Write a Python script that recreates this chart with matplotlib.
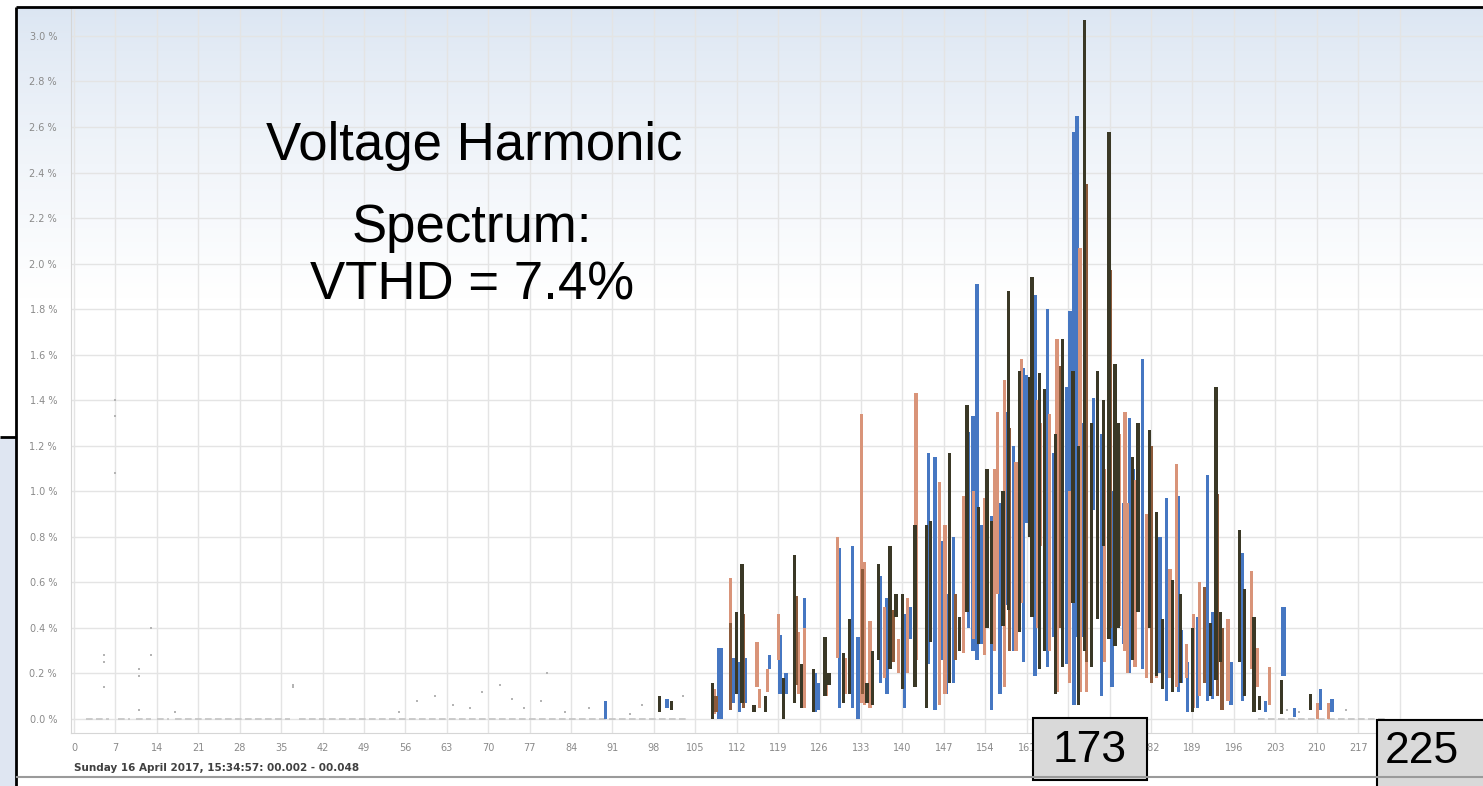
import matplotlib
matplotlib.use('Agg')
import matplotlib.pyplot as plt
import numpy as np
from matplotlib.patches import Rectangle

# harmonic spectrum: each bar is the min..max range of one harmonic, per phase
blue_h = [89.8, 100.2, 109.0, 109.4, 111.4, 112.5, 113.4, 117.5, 119.3, 120.3,
          123.5, 125.2, 125.8, 129.3, 131.5, 132.5, 136.3, 137.4, 140.4, 141.4,
          144.4, 145.5, 146.6, 147.5, 148.6, 151.2, 151.9, 152.6, 153.4, 155.1,
          156.5, 160.4, 161.0, 162.4, 164.5, 165.6, 167.7, 168.3, 169.0, 169.5,
          172.3, 173.6, 175.4, 177.3, 178.4, 180.6, 184.6, 186.6, 187.2, 188.2,
          191.6, 192.4, 195.5, 197.4, 201.3, 204.3, 204.6, 206.3, 210.6, 212.6,
          157.6, 158.8, 170.3, 179.0, 183.5, 189.8]
blue_lo = [0.00, 0.05, 0.00, 0.00, 0.07, 0.03, 0.07, 0.22, 0.11, 0.11,
           0.06, 0.03, 0.04, 0.05, 0.05, 0.00, 0.16, 0.11, 0.05, 0.35,
           0.24, 0.04, 0.26, 0.11, 0.16, 0.40, 0.30, 0.26, 0.33, 0.04,
           0.11, 0.25, 0.86, 0.19, 0.23, 0.36, 0.24, 0.55, 0.06, 0.36,
           0.92, 0.10, 0.14, 0.33, 0.20, 0.22, 0.08, 0.12, 0.16, 0.03,
           0.08, 0.09, 0.06, 0.08, 0.03, 0.19, 0.19, 0.01, 0.04, 0.03,
           0.50, 0.30, 0.36, 0.35, 0.20, 0.05]
blue_hi = [0.08, 0.09, 0.31, 0.31, 0.27, 0.25, 0.27, 0.28, 0.37, 0.20,
           0.53, 0.20, 0.16, 0.75, 0.76, 0.36, 0.63, 0.53, 0.46, 0.49,
           1.17, 1.15, 0.78, 0.55, 0.80, 1.26, 1.33, 1.91, 0.85, 0.89,
           0.95, 1.54, 1.51, 1.86, 1.80, 1.17, 1.46, 1.79, 2.58, 2.65,
           1.41, 1.25, 1.00, 0.95, 1.32, 1.58, 0.97, 0.98, 0.39, 0.25,
           1.07, 0.47, 0.25, 0.73, 0.08, 0.49, 0.49, 0.05, 0.13, 0.09,
           1.35, 1.20, 1.30, 1.10, 0.80, 0.45]

salmon_h = [108.3, 111.0, 115.4, 115.9, 117.2, 119.0, 122.4, 123.4, 127.2, 129.0,
            130.4, 133.1, 133.6, 134.5, 137.0, 139.3, 140.9, 142.3, 146.2, 147.2,
            150.3, 152.0, 153.9, 156.1, 157.3, 159.2, 160.1, 163.3, 164.9, 166.1,
            168.2, 170.0, 171.1, 174.2, 176.7, 178.0, 179.3, 181.2, 182.9, 185.2,
            186.3, 188.0, 189.2, 195.0, 199.0, 200.0, 202.0, 210.1, 212.0,
            155.5, 162.9, 177.6, 190.2]
salmon_lo = [0.02, 0.07, 0.14, 0.05, 0.12, 0.26, 0.11, 0.05, 0.10, 0.27,
             0.11, 0.07, 0.06, 0.05, 0.18, 0.20, 0.20, 0.26, 0.06, 0.11,
             0.29, 0.35, 0.28, 0.55, 0.14, 0.30, 0.51, 0.76, 0.30, 0.12,
             0.16, 0.12, 0.12, 0.25, 0.41, 0.20, 0.23, 0.18, 0.18, 0.18,
             0.14, 0.18, 0.05, 0.08, 0.22, 0.14, 0.06, 0.00, 0.00,
             0.30, 0.40, 0.30, 0.10]
salmon_hi = [0.13, 0.62, 0.34, 0.13, 0.22, 0.46, 0.38, 0.40, 0.20, 0.80,
             0.27, 1.34, 0.69, 0.43, 0.49, 0.35, 0.53, 1.43, 1.04, 0.85,
             0.98, 1.00, 0.97, 1.35, 1.49, 1.13, 1.58, 1.30, 1.34, 1.67,
             1.00, 2.07, 1.20, 1.10, 1.25, 0.95, 1.05, 0.90, 0.74, 0.66,
             1.12, 0.33, 0.46, 0.44, 0.65, 0.31, 0.23, 0.07, 0.07,
             1.10, 1.40, 1.35, 0.60]

dark_h = [99.0, 101.0, 107.9, 112.0, 112.9, 114.9, 116.8, 119.9, 121.8, 123.0,
          125.0, 126.9, 127.6, 130.0, 131.0, 134.0, 135.0, 135.9, 137.9, 138.9,
          140.0, 142.1, 144.0, 144.8, 148.0, 149.6, 150.9, 152.9, 155.0, 157.0,
          157.9, 159.8, 161.5, 161.9, 163.1, 165.9, 167.0, 168.8, 169.7, 170.8,
          171.9, 172.9, 174.0, 174.9, 175.9, 178.9, 179.8, 182.9, 184.0, 185.6,
          187.0, 189.0, 192.0, 193.0, 193.7, 197.0, 197.8, 199.4, 200.3, 204.0,
          209.0, 154.3, 164.0, 176.5, 181.7]
dark_lo = [0.03, 0.04, 0.00, 0.11, 0.07, 0.03, 0.03, 0.00, 0.07, 0.05,
           0.03, 0.10, 0.15, 0.07, 0.11, 0.07, 0.06, 0.26, 0.22, 0.45,
           0.13, 0.14, 0.05, 0.34, 0.16, 0.30, 0.47, 0.33, 0.33, 0.41,
           0.48, 0.38, 0.80, 0.45, 0.22, 0.11, 0.23, 0.51, 0.06, 0.30,
           0.23, 0.44, 0.76, 0.35, 0.32, 0.26, 0.47, 0.19, 0.13, 0.12,
           0.16, 0.03, 0.10, 0.17, 0.25, 0.25, 0.10, 0.03, 0.04, 0.02,
           0.04, 0.40, 0.30, 0.40, 0.40]
dark_hi = [0.10, 0.08, 0.16, 0.47, 0.68, 0.06, 0.10, 0.18, 0.72, 0.24,
           0.22, 0.36, 0.20, 0.29, 0.44, 0.16, 0.30, 0.68, 0.76, 0.55,
           0.55, 0.85, 0.85, 0.87, 1.17, 0.45, 1.38, 0.93, 0.87, 1.00,
           1.88, 1.53, 1.50, 1.94, 1.52, 1.25, 1.67, 1.53, 1.20, 3.07,
           1.30, 1.53, 1.40, 2.58, 1.56, 1.15, 1.30, 0.91, 0.44, 0.61,
           0.55, 0.40, 0.42, 1.46, 0.47, 0.83, 0.57, 0.45, 0.10, 0.17,
           0.11, 1.10, 1.45, 1.30, 1.27]

brown_h = [108.5, 110.9, 113.1, 122.0, 133.3, 138.5, 149.0, 158.1, 166.7, 171.1,
           175.1, 182.1, 191.0, 193.2, 194.0]
brown_lo = [0.03, 0.04, 0.05, 0.15, 0.11, 0.25, 0.26, 0.30, 0.40, 0.25,
            0.40, 0.16, 0.16, 0.10, 0.04]
brown_hi = [0.10, 0.42, 0.46, 0.54, 0.66, 0.48, 0.55, 1.28, 1.55, 2.35,
            1.97, 1.20, 0.58, 0.99, 0.40]

# faint low-order readings (grey specks)
speck_h = [5, 5, 5, 7, 7, 7, 11, 11, 11, 13, 13, 17, 37, 37, 55, 58, 61, 64,
           67, 69, 72, 74, 76, 79, 80, 83, 87, 94, 96, 103, 205, 207, 215]
speck_v = [0.28, 0.25, 0.14, 1.40, 1.33, 1.08, 0.22, 0.19, 0.04, 0.28, 0.40,
           0.03, 0.15, 0.14, 0.03, 0.08, 0.10, 0.06, 0.05, 0.12, 0.15, 0.09,
           0.05, 0.08, 0.20, 0.03, 0.05, 0.02, 0.06, 0.10, 0.04, 0.03, 0.04]
# runs of ~0 % readings along the base line
zero_start = [2, 7.5, 10.5, 14, 17, 38, 200]
zero_end = [6, 9.5, 13, 16, 36.5, 104, 222]

yticks = [0.0, 0.2, 0.4, 0.6, 0.8, 1.0, 1.2, 1.4, 1.6, 1.8, 2.0, 2.2, 2.4, 2.6, 2.8, 3.0]
xticks = list(range(0, 225, 7))

W, H = 1483, 786
fig = plt.figure(figsize=(W / 100, H / 100), dpi=100)

# background gradient (light blue at top fading to white)
bg = fig.add_axes([0, 0, 1, 1], zorder=-10)
bg.set_xlim(0, W)
bg.set_ylim(H, 0)
bg.axis('off')
rows = np.linspace(0, 1, 300)[:, None]
top = np.array([0.86, 0.90, 0.95])
grad = top + (1 - top) * np.clip(rows / 0.9, 0, 1) ** 0.8
img = np.repeat(grad[:, None, :], 2, axis=1).reshape(300, 2, 3)
bg.imshow(img, extent=[16, W, 330, 8], aspect='auto', interpolation='bilinear')
bg.add_patch(Rectangle((0, 438), 16, H - 438, color='#dfe6f2', lw=0))

ax = fig.add_axes([71 / W, (H - 733) / H, (W - 71) / W, (733 - 8) / H])
ax.set_facecolor('none')
ax.set_xlim(-0.5, 238.1)
ax.set_ylim(-0.0615, 3.1226)

bw = 0.55
ax.bar(blue_h, np.subtract(blue_hi, blue_lo), bottom=blue_lo, width=bw,
       color='#4677c2', lw=0, zorder=3)
ax.bar(salmon_h, np.subtract(salmon_hi, salmon_lo), bottom=salmon_lo, width=bw,
       color='#d99479', lw=0, zorder=3)
ax.bar(brown_h, np.subtract(brown_hi, brown_lo), bottom=brown_lo, width=bw,
       color='#8c5a3a', lw=0, zorder=3)
ax.bar(dark_h, np.subtract(dark_hi, dark_lo), bottom=dark_lo, width=bw,
       color='#3a3826', lw=0, zorder=3)

ax.scatter(speck_h, speck_v, s=3, marker='s', color='#b4b4b4', lw=0, zorder=2)
ax.hlines([0.0] * len(zero_start), zero_start, zero_end, colors='#c4c4c4',
          lw=1.2, linestyles=(0, (4, 2)), zorder=2)

ax.set_xticks(xticks)
ax.set_yticks(yticks)
ax.set_yticklabels([f"{v:.1f} %" for v in yticks])
ax.tick_params(length=0, labelsize=7, labelcolor='#8a8a8a')
ax.tick_params(axis='y', pad=10)
ax.tick_params(axis='x', pad=7)
ax.grid(True, color='#e4e4e4', lw=1)
ax.set_axisbelow(True)
for s in ['top', 'right']:
    ax.spines[s].set_visible(False)
for s in ['left', 'bottom']:
    ax.spines[s].set_color('#d6d6d6')

# overlay: frame, captions, boxes
ov = fig.add_axes([0, 0, 1, 1], zorder=10)
ov.set_xlim(0, W)
ov.set_ylim(H, 0)
ov.axis('off')
ov.plot([16, W], [7, 7], color='black', lw=2, solid_capstyle='butt')
ov.plot([16, 16], [7, H], color='black', lw=2, solid_capstyle='butt')
ov.plot([0, 16], [437, 437], color='black', lw=2, solid_capstyle='butt')
ov.plot([17, W], [777, 777], color='#9a9a9a', lw=1.5)

ov.text(74, 768, "Sunday 16 April 2017, 15:34:57: 00.002 - 00.048",
        fontsize=7.5, fontweight='bold', color='#404040', va='center', ha='left')

big = dict(family='Liberation Sans', fontsize=38, color='black', ha='center', va='baseline')
ov.text(474, 160, "Voltage Harmonic", **big)
ov.text(472, 242, "Spectrum:", **big)
ov.text(472, 300, "VTHD = 7.4%", **big)

ov.add_patch(Rectangle((1033, 718), 114, 62, facecolor='#d9d9d9', edgecolor='black', lw=1.5))
ov.text(1090, 762, "173", family='Liberation Sans', fontsize=32, ha='center', va='baseline')
ov.add_patch(Rectangle((1377, 720), 120, 80, facecolor='#d9d9d9', edgecolor='black', lw=1.5))
ov.text(1422, 763, "225", family='Liberation Sans', fontsize=32, ha='center', va='baseline')

fig.savefig('out.png', dpi=100)
